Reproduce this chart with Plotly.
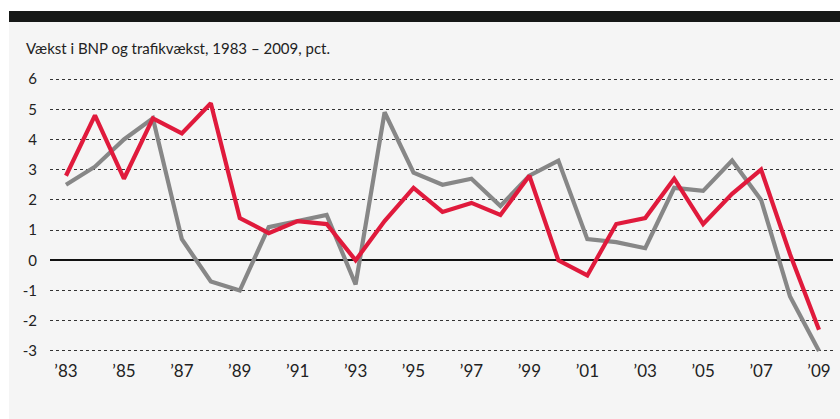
import plotly.graph_objects as go

years = list(range(1983, 2010))
gray_series = [2.5, 3.1, 4.0, 4.7, 0.7, -0.7, -1.0, 1.1, 1.3, 1.5, -0.8, 4.9, 2.9, 2.5, 2.7, 1.8,
               2.8, 3.3, 0.7, 0.6, 0.4, 2.4, 2.3, 3.3, 2.0, -1.2, -3.0]
red_series = [2.8, 4.8, 2.7, 4.7, 4.2, 5.2, 1.4, 0.9, 1.3, 1.2, 0.0, 1.3, 2.4, 1.6, 1.9, 1.5,
              2.8, 0.0, -0.5, 1.2, 1.4, 2.7, 1.2, 2.2, 3.0, 0.2, -2.3]
x_tickvals = list(range(1983, 2010, 2))
x_ticktext = ["’83", "’85", "’87", "’89", "’91", "’93", "’95", "’97", "’99", "’01", "’03", "’05", "’07", "’09"]
y_tickvals = [-3, -2, -1, 0, 1, 2, 3, 4, 5, 6]
y_ticktext = ["-3", "-2", "-1", "0", "1", "2", "3", "4", "5", "6"]
title_text = "Vækst i BNP og trafikvækst, 1983 – 2009, pct."

W, H = 840, 419
L, R, T, B = 50, 7, 73, 62
pw, ph = W - L - R, H - T - B

def px_x(p):
    return (p - L) / pw

def px_y(p):
    return (H - B - p) / ph

fig = go.Figure()
fig.add_trace(go.Scatter(x=years, y=gray_series, mode="lines", name="BNP",
                         line=dict(color="#878787", width=4.2), cliponaxis=False))
fig.add_trace(go.Scatter(x=years, y=red_series, mode="lines", name="Trafik",
                         line=dict(color="#e01a3c", width=4.2), cliponaxis=False))

fig.update_layout(
    width=W, height=H,
    margin=dict(l=L, r=R, t=T, b=B, pad=0),
    paper_bgcolor="white",
    plot_bgcolor="rgba(0,0,0,0)",
    showlegend=False,
    font=dict(family="Lato, sans-serif", color="#222222"),
    shapes=[
        dict(type="rect", xref="paper", yref="paper", layer="below",
             x0=px_x(9), x1=px_x(842), y0=px_y(421), y1=px_y(22),
             fillcolor="#f5f5f5", line=dict(width=0)),
        dict(type="rect", xref="paper", yref="paper", layer="below",
             x0=px_x(9), x1=px_x(842), y0=px_y(22), y1=px_y(11),
             fillcolor="#161817", line=dict(width=0)),
    ],
    annotations=[
        dict(text=title_text, xref="paper", yref="paper", x=px_x(24), y=px_y(48),
             xanchor="left", yanchor="middle", showarrow=False,
             font=dict(size=15, color="#222222", family="Lato, sans-serif")),
    ],
)

fig.update_xaxes(
    range=[1983 - 16 / 28.96, 2009 + 14 / 28.96],
    tickvals=x_tickvals, ticktext=x_ticktext,
    showgrid=False, zeroline=False, showline=False,
    ticks="", tickfont=dict(size=17, color="#222222"),
    ticklabelstandoff=2,
)
fig.update_yaxes(
    range=[-3.2, 6.2],
    tickvals=y_tickvals, ticktext=y_ticktext,
    showgrid=True, gridcolor="#333333", griddash="dot", gridwidth=1,
    zeroline=True, zerolinecolor="#111111", zerolinewidth=1.5,
    showline=False, ticks="",
    tickfont=dict(size=15, color="#222222"),
    ticklabelstandoff=12,
)

fig.write_html("out.html", config={"displayModeBar": False},
               post_script="document.body.style.margin='0';document.body.style.overflow='hidden';")
